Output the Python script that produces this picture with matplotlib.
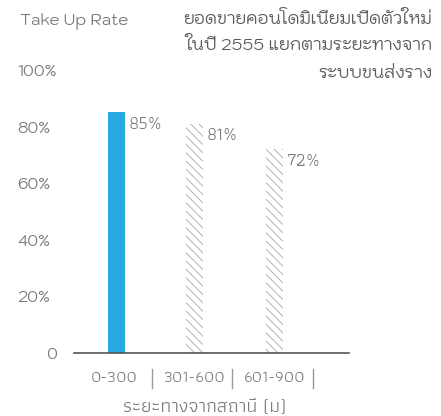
import matplotlib
matplotlib.use("Agg")
import matplotlib.pyplot as plt
import matplotlib.transforms as mtransforms

# ---- data ----
categories = ["0-300", "301-600", "601-900"]
take_up = [85, 81, 72]
bar_labels = ["85%", "81%", "72%"]
y_ticks = [0, 20, 40, 60, 80, 100]
y_tick_labels = ["0", "20%", "40%", "60%", "80%", "100%"]
title_lines = ["ยอดขายคอนโดมิเนียมเปิดตัวใหม่", "ในปี 2555 แยกตามระยะทางจาก", "ระบบขนส่งราง"]
y_title = "Take Up Rate"
x_title = "ระยะทางจากสถานี (ม)"

GEO = ["Kodchasan", "DejaVu Sans"]
COND = ["Athiti", "DejaVu Sans"]
GRAY = "#7a7a7a"

plt.rcParams["hatch.linewidth"] = 0.6

W, H = 441, 416
fig = plt.figure(figsize=(W / 100, H / 100), dpi=100)
ax = fig.add_axes([74 / W, (H - 353) / H, 275 / W, 283 / H])

xs = list(range(len(categories)))
bw = 0.211
for i, (x, v) in enumerate(zip(xs, take_up)):
    if i == 0:
        ax.bar(x + 0.03, v, width=bw, color="#27a9e1", linewidth=0)
    else:
        ax.bar(x, v, width=bw, facecolor="none", edgecolor="#a8a8a8",
               hatch="\\\\\\\\", linewidth=0)

# bar value labels
for i, (x, v, lab) in enumerate(zip(xs, take_up, bar_labels)):
    off = mtransforms.ScaledTranslation(4 / 100, -12 / 100, fig.dpi_scale_trans)
    ax.text(x + bw / 2 + (0.03 if i == 0 else 0), v, lab, transform=ax.transData + off,
            ha="left", va="center", fontsize=13, family=COND, color=GRAY)

ax.set_xlim(-0.494, 2.922)
ax.set_ylim(0, 100)

for s in ["top", "right", "left"]:
    ax.spines[s].set_visible(False)
ax.spines["bottom"].set_color("#555555")
ax.spines["bottom"].set_linewidth(1.2)

ax.set_yticks(y_ticks)
ax.set_yticklabels(y_tick_labels, family=GEO, fontsize=11.5, color=GRAY)
ax.tick_params(axis="y", length=0, pad=0)
for t, lab in zip(ax.get_yticklabels(), y_tick_labels):
    if lab == "0":
        t.set_ha("right")
        t.set_transform(t.get_transform() + mtransforms.ScaledTranslation(-17 / 100, 0, fig.dpi_scale_trans))
    else:
        t.set_ha("left")
        t.set_transform(t.get_transform() + mtransforms.ScaledTranslation(-57 / 100, 0, fig.dpi_scale_trans))

ax.set_xticks(xs)
ax.set_xticklabels(categories, family=COND, fontsize=12, color=GRAY)
ax.tick_params(axis="x", length=0, pad=13)

# separators
trans = mtransforms.blended_transform_factory(ax.transData, ax.transAxes)
for x in xs:
    ax.plot([x + 0.47, x + 0.47], [-0.057, -0.124], transform=trans, color="#999999",
            lw=1.0, clip_on=False)

ax.set_xlabel(x_title, family=COND, fontsize=14, color=GRAY)
ax.xaxis.label.set_va("center")
ax.xaxis.set_label_coords(0.476, -0.191)

fig.text(20 / W, 1 - 21 / H, y_title, family=GEO, fontsize=11.5, color=GRAY,
         ha="left", va="center")
for k, line in enumerate(title_lines):
    fig.text(432 / W, 1 - (20 + 27 * k) / H, line, family=GEO, fontsize=12,
             color="#5a5a5a", ha="right", va="center")

fig.savefig("out.png", dpi=100)
